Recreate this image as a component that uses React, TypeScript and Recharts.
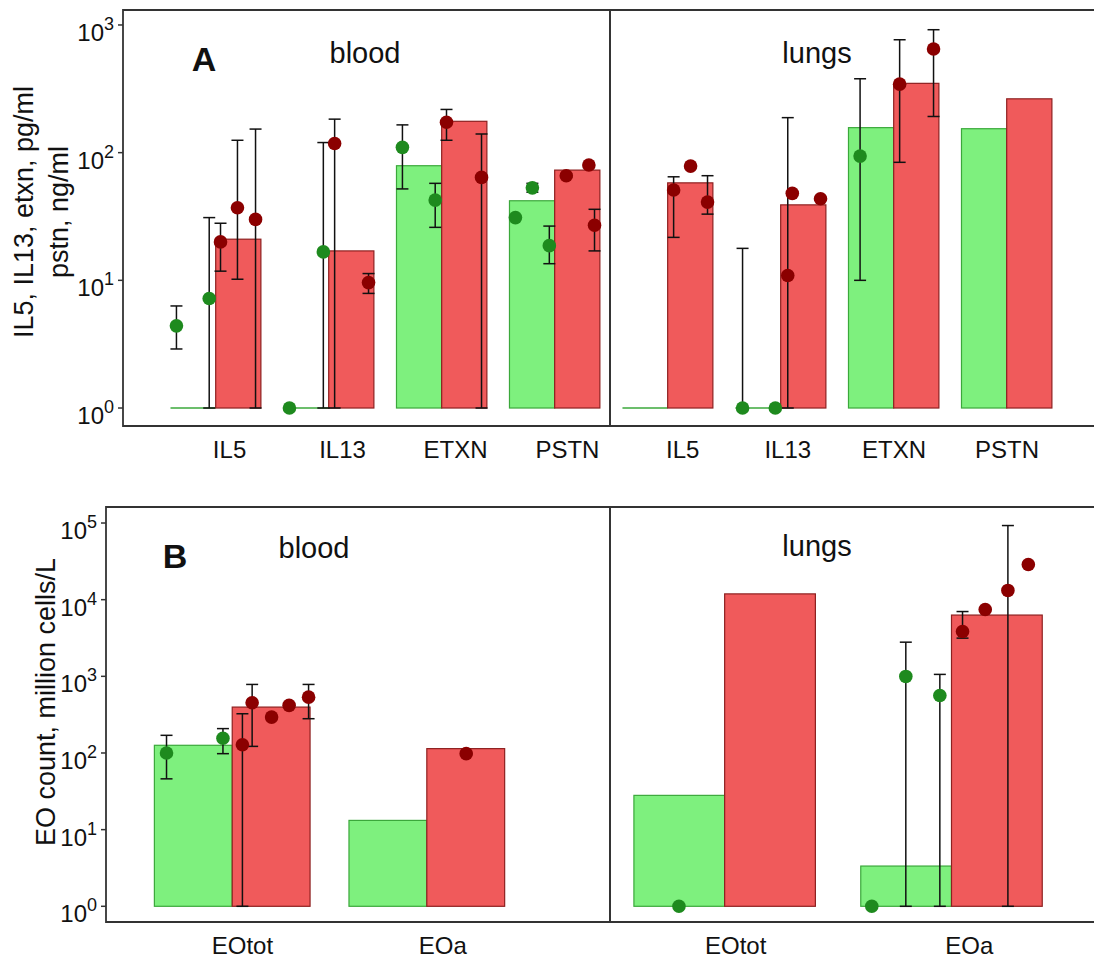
import React from 'react';
import { ComposedChart, Bar, Scatter, XAxis, YAxis, ErrorBar, ReferenceArea } from 'recharts';

const FONT = '"Liberation Sans", Arial, sans-serif';
const GREEN_FILL = '#7EF07E';
const GREEN_EDGE = '#3BA83B';
const GREEN_DOT = '#1E8A1E';
const RED_FILL = '#F05A5B';
const RED_EDGE = '#8E2020';
const RED_DOT = '#8B0000';
const INK = '#333';

// [x position (group index + jitter), value, error low, error high]
type Pt = [number, number, number | null, number | null];

// ---- panel A: cytokines ----
const A_CATS = ['IL5', 'IL13', 'ETXN', 'PSTN'];
const A_TICKS_BLOOD = [0.12, 1.12, 2.12, 3.11];
const A_TICKS_LUNGS = [0.13, 1.06, 2.0, 3.0];
const A_Y_TICKS = [1, 10, 100, 1000];

const A_BLOOD_CTRL = [1, 1, 79, 42];
const A_BLOOD_ASTH = [21, 17, 176, 73];
const A_LUNGS_CTRL = [1, 1, 157, 154];
const A_LUNGS_ASTH = [58, 39, 349, 264];

const A_BLOOD_CTRL_PTS: Pt[] = [
  [-0.35, 4.4, 2.9, 6.3],
  [-0.06, 7.2, 1, 31],
  [0.65, 1, null, null],
  [0.95, 16.7, 1, 120],
  [1.65, 110, 52, 165],
  [1.94, 42.5, 26, 57.5],
  [2.65, 31, null, null],
  [2.8, 53, 49, 57.5],
  [2.95, 18.7, 13.5, 26.6],
];
const A_BLOOD_ASTH_PTS: Pt[] = [
  [0.04, 20, 11.8, 28],
  [0.19, 37, 10.2, 125],
  [0.35, 30, 1, 153],
  [1.05, 118, 1, 183],
  [1.35, 9.6, 7.9, 11.3],
  [2.04, 173, 125, 218],
  [2.35, 64, 1, 140],
  [3.1, 66, 64, 68],
  [3.3, 80, 78, 82.5],
  [3.35, 27, 17, 36],
];
const A_LUNGS_CTRL_PTS: Pt[] = [
  [0.66, 1, 1, 17.8],
  [0.95, 1, null, null],
  [1.7, 94, 10, 379],
];
const A_LUNGS_ASTH_PTS: Pt[] = [
  [0.05, 51, 21.7, 64.7],
  [0.2, 78.5, 76.5, 80.5],
  [0.35, 41, 33, 66],
  [1.06, 10.9, 1, 188],
  [1.1, 48, 46.8, 49.2],
  [1.35, 43.5, 42.4, 44.6],
  [2.05, 344, 84, 766],
  [2.35, 648, 192, 918],
];

// ---- panel B: eosinophil counts ----
const B_CATS = ['EOtot', 'EOa'];
const B_TICKS = [0.05, 1.08];
const B_Y_TICKS = [1, 10, 100, 1000, 10000, 100000];

const B_BLOOD_CTRL = [126, 13.2];
const B_BLOOD_ASTH = [397, 114];
const B_LUNGS_CTRL = [28, 3.35];
const B_LUNGS_ASTH = [11900, 6300];

const B_BLOOD_CTRL_PTS: Pt[] = [
  [-0.34, 100, 46, 170],
  [-0.05, 156, 98, 208],
];
const B_BLOOD_ASTH_PTS: Pt[] = [
  [0.05, 128, 1, 325],
  [0.1, 453, 122, 784],
  [0.2, 294, 285, 303],
  [0.29, 418, 405, 431],
  [0.39, 535, 280, 784],
  [1.2, 98, 95, 101],
];
const B_LUNGS_CTRL_PTS: Pt[] = [
  [-0.2, 1, null, null],
  [0.65, 1, null, null],
  [0.8, 997, 1, 2790],
  [0.95, 563, 1, 1060],
];
const B_LUNGS_ASTH_PTS: Pt[] = [
  [1.05, 3850, 3150, 7000],
  [1.15, 7450, 7200, 7700],
  [1.25, 13200, 1, 92700],
  [1.34, 28800, 27900, 29700],
];

const toPoints = (pts: Pt[]) =>
  pts.map(([x, y, lo, hi]) => ({
    x,
    y,
    err: lo == null || hi == null ? undefined : [y - lo, hi - y],
  }));

const BarShape = (props: any) => {
  const { x, y, width, height, fill, stroke } = props;
  if (!(height > 0.5)) {
    const yy = y + (height || 0);
    return <line x1={x} x2={x + width} y1={yy} y2={yy} stroke={stroke} strokeWidth={1.6} />;
  }
  return <rect x={x} y={y} width={width} height={height} fill={fill} stroke={stroke} strokeWidth={1.2} />;
};

const dot = (color: string) => (props: any) => <circle cx={props.cx} cy={props.cy} r={6.8} fill={color} />;
const noShape = () => <g />;

const XTick = ({ x, y, index, labels }: any) => (
  <text x={x} y={y + 24} textAnchor="middle" fontSize={24} fontFamily={FONT} fill="#111">
    {labels[index]}
  </text>
);

const YTick = ({ x, y, payload }: any) => {
  const e = Math.round(Math.log10(payload.value));
  return (
    <text x={x} y={y + 16} textAnchor="end" fontSize={24} fontFamily={FONT} fill="#111">
      10<tspan dy={-11} fontSize={18}>{e}</tspan>
    </text>
  );
};

interface FacetProps {
  left: number;
  top: number;
  width: number;
  height: number;
  yAxisWidth?: number;
  axisHeight: number;
  xDomain: [number, number];
  yDomain: [number, number];
  yTicks?: number[];
  cats: string[];
  tickPos: number[];
  ctrl: number[];
  asth: number[];
  ctrlPts: Pt[];
  asthPts: Pt[];
}

function Facet(p: FacetProps) {
  const showY = !!p.yTicks;
  const yW = showY ? p.yAxisWidth || 0 : 0;
  const margin = { top: 10, right: 2, bottom: 0, left: showY ? 0 : 2 };
  const plotW = p.width - margin.left - margin.right - yW;
  const barPx = (0.4 * plotW) / (p.xDomain[1] - p.xDomain[0]);
  const data = p.cats.map((c, i) => ({ x: i, name: c, ctrl: [1, p.ctrl[i]], asth: [1, p.asth[i]] }));
  const cPts = toPoints(p.ctrlPts);
  const aPts = toPoints(p.asthPts);

  return (
    <div style={{ position: 'absolute', left: p.left, top: p.top }}>
      <ComposedChart width={p.width} height={p.height} data={data} margin={margin} barGap={0}>
        <XAxis
          xAxisId="pt"
          type="number"
          dataKey="x"
          domain={p.xDomain}
          allowDataOverflow
          ticks={p.tickPos}
          interval={0}
          height={p.axisHeight}
          axisLine={false}
          tickLine={false}
          tick={(t: any) => <XTick {...t} labels={p.cats} />}
        />
        <XAxis xAxisId="bar" type="number" dataKey="x" domain={p.xDomain} allowDataOverflow hide height={0} />
        <YAxis
          type="number"
          dataKey="y"
          scale="log"
          domain={p.yDomain}
          allowDataOverflow
          hide={!showY}
          ticks={p.yTicks}
          interval={0}
          width={yW}
          tickSize={5}
          tickMargin={4}
          axisLine={false}
          tickLine={{ stroke: INK, strokeWidth: 1.5 }}
          tick={(t: any) => <YTick {...t} />}
        />
        <Bar xAxisId="bar" dataKey="ctrl" barSize={barPx} fill={GREEN_FILL} stroke={GREEN_EDGE} shape={BarShape} isAnimationActive={false} />
        <Bar xAxisId="bar" dataKey="asth" barSize={barPx} fill={RED_FILL} stroke={RED_EDGE} shape={BarShape} isAnimationActive={false} />
        <Scatter xAxisId="pt" data={cPts} shape={dot(GREEN_DOT)} isAnimationActive={false} />
        <Scatter xAxisId="pt" data={aPts} shape={dot(RED_DOT)} isAnimationActive={false} />
        <Scatter xAxisId="pt" data={cPts} shape={noShape} isAnimationActive={false}>
          <ErrorBar dataKey="err" direction="y" width={6} stroke="#111" strokeWidth={1.5} />
        </Scatter>
        <Scatter xAxisId="pt" data={aPts} shape={noShape} isAnimationActive={false}>
          <ErrorBar dataKey="err" direction="y" width={6} stroke="#111" strokeWidth={1.5} />
        </Scatter>
        <ReferenceArea
          xAxisId="pt"
          x1={p.xDomain[0]}
          x2={p.xDomain[1]}
          y1={p.yDomain[0]}
          y2={p.yDomain[1]}
          fill="none"
          stroke={INK}
          strokeWidth={1.8}
          ifOverflow="visible"
        />
      </ComposedChart>
    </div>
  );
}

const label = { fontFamily: FONT, fill: '#111' };

export default function App() {
  return (
    <div
      style={{
        position: 'absolute',
        left: 0,
        top: 0,
        width: 1094,
        height: 961,
        overflow: 'hidden',
        background: '#fff',
      }}
    >
      <Facet
        left={0} top={0} width={612} height={470} yAxisWidth={123} axisHeight={44}
        xDomain={[-0.823, 3.487]} yDomain={[0.723, 1310]} yTicks={A_Y_TICKS}
        cats={A_CATS} tickPos={A_TICKS_BLOOD}
        ctrl={A_BLOOD_CTRL} asth={A_BLOOD_ASTH}
        ctrlPts={A_BLOOD_CTRL_PTS} asthPts={A_BLOOD_ASTH_PTS}
      />
      <Facet
        left={608} top={0} width={494} height={470} axisHeight={44}
        xDomain={[-0.513, 3.823]} yDomain={[0.723, 1310]}
        cats={A_CATS} tickPos={A_TICKS_LUNGS}
        ctrl={A_LUNGS_CTRL} asth={A_LUNGS_ASTH}
        ctrlPts={A_LUNGS_CTRL_PTS} asthPts={A_LUNGS_ASTH_PTS}
      />
      <Facet
        left={0} top={497} width={612} height={464} yAxisWidth={106} axisHeight={39}
        xDomain={[-0.651, 1.939]} yDomain={[0.624, 161800]} yTicks={B_Y_TICKS}
        cats={B_CATS} tickPos={B_TICKS}
        ctrl={B_BLOOD_CTRL} asth={B_BLOOD_ASTH}
        ctrlPts={B_BLOOD_CTRL_PTS} asthPts={B_BLOOD_ASTH_PTS}
      />
      <Facet
        left={608} top={497} width={494} height={464} axisHeight={39}
        xDomain={[-0.504, 1.656]} yDomain={[0.624, 161800]}
        cats={B_CATS} tickPos={B_TICKS}
        ctrl={B_LUNGS_CTRL} asth={B_LUNGS_ASTH}
        ctrlPts={B_LUNGS_CTRL_PTS} asthPts={B_LUNGS_ASTH_PTS}
      />
      <svg width={1094} height={961} style={{ position: 'absolute', left: 0, top: 0, pointerEvents: 'none' }}>
        <text x={204} y={71} textAnchor="middle" fontSize={34} fontWeight="bold" {...label}>A</text>
        <text x={365} y={63} textAnchor="middle" fontSize={29} {...label}>blood</text>
        <text x={817} y={63} textAnchor="middle" fontSize={29} {...label}>lungs</text>
        <text x={175} y={568} textAnchor="middle" fontSize={34} fontWeight="bold" {...label}>B</text>
        <text x={314} y={558} textAnchor="middle" fontSize={29} {...label}>blood</text>
        <text x={817} y={556} textAnchor="middle" fontSize={29} {...label}>lungs</text>
        <text x={33} y={212} textAnchor="middle" fontSize={27} transform="rotate(-90 33 212)" {...label}>
          IL5, IL13, etxn, pg/ml
        </text>
        <text x={68} y={212} textAnchor="middle" fontSize={27} transform="rotate(-90 68 212)" {...label}>
          pstn, ng/ml
        </text>
        <text x={55} y={702} textAnchor="middle" fontSize={27} transform="rotate(-90 55 702)" {...label}>
          EO count, million cells/L
        </text>
      </svg>
    </div>
  );
}
